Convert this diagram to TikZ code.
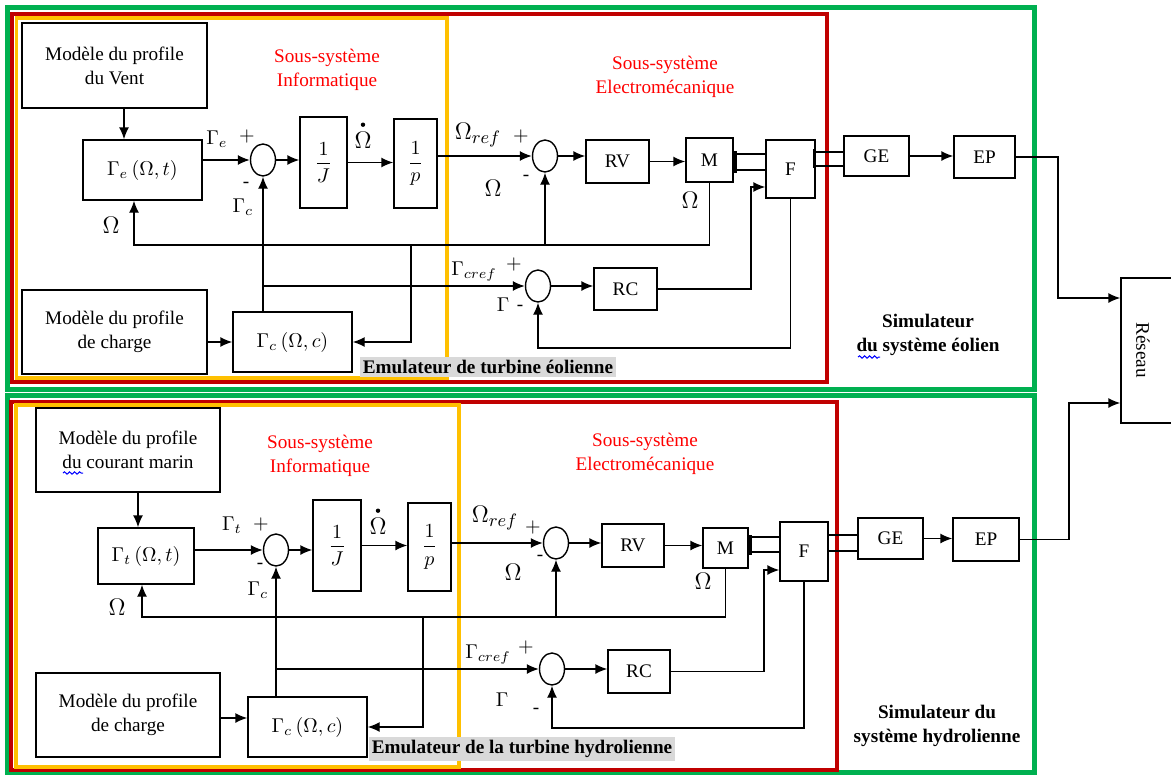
\documentclass[tikz,border=0pt]{standalone}
\usepackage{fontspec}
\setmainfont{Liberation Serif}
\usetikzlibrary{arrows.meta,shapes.geometric,decorations.pathmorphing}

\definecolor{frgreen}{HTML}{00B050}
\definecolor{frred}{HTML}{C00000}
\definecolor{fryellow}{HTML}{FFC000}
\definecolor{lblred}{HTML}{FF0000}
\definecolor{lblgray}{HTML}{D9D9D9}

\newcommand{\diagfont}{\fontsize{9.6}{12}\selectfont}

\tikzset{
  blk/.style={draw, line width=0.7pt, inner sep=1pt, align=center},
  sumn/.style={draw, ellipse, line width=0.7pt, minimum width=12.5pt, minimum height=16pt, inner sep=0pt},
  sig/.style={inner sep=0pt},
  bigsig/.style={inner sep=0pt, font=\fontsize{13}{13}\selectfont},
  subtitle/.style={text=lblred, align=center},
  emul/.style={fill=lblgray, inner sep=1.5pt, font=\diagfont\bfseries},
  simul/.style={align=center, font=\diagfont\bfseries},
  squiggle/.style={blue, line width=0.5pt, decorate, decoration={snake, amplitude=0.6pt, segment length=2.5pt}},
}

\begin{document}
\begin{tikzpicture}[x=0.5pt, y=-0.5pt, font=\diagfont, line width=0.7pt,
    >={Latex[length=6pt,width=5pt]}]
    \def\gw{2.5pt}
    \def\rw{2pt}
    \def\yw{1.7pt}
    % dot over Omega
    \def\dotr{1.1pt}

\useasboundingbox (0,0) rectangle (1171,776);

% --------------------
% Frames
% --------------------
\draw[frgreen, line width=\gw] (7,7) rectangle (1034,389);
\draw[frgreen, line width=\gw] (7,395) rectangle (1034,772);
\draw[frred, line width=\rw] (12,14) rectangle (827,382);
\draw[frred, line width=\rw] (11,402) rectangle (837,770);
\draw[fryellow, line width=\yw] (16.5,18) rectangle (447,378);
\draw[fryellow, line width=\yw] (16,405) rectangle (459,767);

% --------------------
% Wind turbine: blocks
% --------------------
\node[blk, minimum width=92.5pt, minimum height=42.5pt] (vent) at (114.5,65.5) {Modèle du profile\\du Vent};
\node[blk, minimum width=59.5pt, minimum height=30pt] (gamE) at (142.5,170) {$\Gamma_e\,(\Omega,t)$};
\node[sumn] (sumA) at (263,160) {};
\node[blk, minimum width=23.5pt, minimum height=45.5pt] (invJ) at (323.5,162.5) {$\displaystyle\frac{1}{J}$};
\node[blk, minimum width=21.5pt, minimum height=44.5pt] (invP) at (415.5,163.5) {$\displaystyle\frac{1}{p}$};
\node[sumn] (sumB) at (545,156) {};
\node[blk, minimum width=31.5pt, minimum height=21.5pt] (RV) at (617.5,161.5) {RV};
\node[blk, minimum width=23.5pt, minimum height=22pt] (M) at (709.5,160) {M};
\node[blk, minimum width=24.5pt, minimum height=29pt] (F) at (790.5,169) {F};
\node[blk, minimum width=32.5pt, minimum height=20pt] (GE) at (876.5,156) {GE};
\node[blk, minimum width=30.5pt, minimum height=21pt] (EP) at (984.5,157) {EP};
\node[sumn] (sumC) at (538,286) {};
\node[blk, minimum width=31.5pt, minimum height=21pt] (RC) at (625.5,289) {RC};
\node[blk, minimum width=59.5pt, minimum height=30pt] (gamC) at (292.5,342) {$\Gamma_c\,(\Omega,c)$};
\node[blk, minimum width=92.5pt, minimum height=42pt] (charge) at (114.5,332) {Modèle du profile\\de charge};

% grid
\node[blk, minimum width=29.5pt, minimum height=72.5pt] (reseau) at (1150.5,350.5) {};
\node[rotate=-90] (reseauTxt) at (1143,350) {Réseau};

% --------------------
% Wind turbine: connectors
% --------------------
\draw[->] ([xshift=4.75pt]vent.south) -- ([xshift=4.75pt]vent.south |- gamE.north);
\draw[->] (gamE.east |- sumA.west) -- (sumA.west);
\draw[->] (sumA.east) -- (sumA.east -| invJ.west);
\draw[->] (invJ.east) -- (invJ.east -| invP.west);
\draw[->] (invP.east |- sumB.west) -- (sumB.west);
\draw[->] (sumB.east) -- (sumB.east -| RV.west);
\draw[->] (RV.east) -- (RV.east -| M.west);

% shafts
\draw (M.east |- 0,154) -- (F.west |- 0,154);
\draw (M.east |- 0,170) -- (F.west |- 0,170);
\fill (M.east |- 0,151) rectangle ++(3,22);
\draw (F.east |- 0,152) -- (GE.west |- 0,152);
\draw (F.east |- 0,166) -- (GE.west |- 0,166);
\fill (F.east |- 0,149) rectangle ++(-3,19);

\draw[->] (GE.east) -- (GE.east -| EP.west);
\coordinate (rsA) at (1058,298);
\draw[->] (EP.east) -| (rsA) -- (rsA -| reseau.west);

% speed feedback
\coordinate (omA) at (134,245);
\coordinate (brA) at (411,245);
\draw[->] (M.south) |- (omA) -- (omA |- gamE.south);
\draw[->] (sumB.south |- omA) -- (sumB.south);
\draw[->] (brA) |- (gamC.east);

% torque loop
\draw[->] (charge.east |- gamC.west) -- (gamC.west);
\draw[->] (gamC.north -| sumA.south) -- (sumA.south);
\draw[->] (sumA.south |- sumC.west) -- (sumC.west);
\draw[->] (sumC.east) -- (sumC.east -| RC.west);
\coordinate (rcUp) at (751,187);
\draw[->] (RC.east) -| (rcUp) -- (rcUp -| F.west);
\coordinate (fbC) at (538,348);
\draw[->] (F.south) |- (fbC) -- (sumC.south);

% signal labels
\node[sig] (lGe) at (217,139) {$\Gamma_e$};
\node[sig] (lGeP) at (247,136) {$+$};
\node[sig] (lGcM) at (246,185) {-};
\node[sig] (lGc) at (243,207) {$\Gamma_c$};
\node[bigsig] (lOmDot) at (363,140) {$\Omega$};
\fill ([yshift=3.2pt]lOmDot.north) circle (\dotr);
\node[bigsig] (lOmRef) at (478,135) {$\Omega_{ref}$};
\node[sig] (lOmRefP) at (521,136) {$+$};
\node[bigsig] (lOmB) at (493,188) {$\Omega$};
\node[sig] (lOmBM) at (526,178) {-};
\node[bigsig] (lOmM) at (690,200) {$\Omega$};
\node[bigsig] (lOmA) at (111,225) {$\Omega$};
\node[sig] (lGcref) at (474,272) {$\Gamma_{cref}$};
\node[sig] (lGcrefP) at (514,264) {$+$};
\node[sig] (lGam) at (503,305) {$\Gamma$};
\node[sig] (lGamM) at (520,308) {-};

% titles
\node[subtitle] (infoA) at (327,70) {Sous-système\\Informatique};
\node[subtitle] (elecA) at (665,77) {Sous-système\\Electromécanique};
\node[simul] (simA) at (928,335) {Simulateur\\du système éolien};
\draw[squiggle] (858,357) -- (880,357);
\node[emul] (emA) at (488,367) {Emulateur de turbine éolienne};

% --------------------
% Tidal turbine: blocks
% --------------------
\node[blk, minimum width=92pt, minimum height=42pt] (marin) at (128,450) {Modèle du profile\\du courant marin};
\node[blk, minimum width=48pt, minimum height=28pt] (gamT) at (146,556) {$\Gamma_t\,(\Omega,t)$};
\node[sumn] (sumD) at (276,550) {};
\node[blk, minimum width=24pt, minimum height=45.5pt] (invJb) at (337,545.5) {$\displaystyle\frac{1}{J}$};
\node[blk, minimum width=21.5pt, minimum height=44pt] (invPb) at (429.5,547) {$\displaystyle\frac{1}{p}$};
\node[sumn] (sumE) at (556,543) {};
\node[blk, minimum width=31pt, minimum height=21.5pt] (RVb) at (633,545.5) {RV};
\node[blk, minimum width=22.5pt, minimum height=20pt] (Mb) at (725.5,548) {M};
\node[blk, minimum width=24pt, minimum height=29.5pt] (Fb) at (804,551.5) {F};
\node[blk, minimum width=32.5pt, minimum height=20.5pt] (GEb) at (890.5,538.5) {GE};
\node[blk, minimum width=33pt, minimum height=21.5pt] (EPb) at (986,539.5) {EP};
\node[sumn] (sumF) at (552,669) {};
\node[blk, minimum width=31pt, minimum height=21.5pt] (RCb) at (639,671.5) {RC};
\node[blk, minimum width=59.5pt, minimum height=30pt] (gamCb) at (307.5,727) {$\Gamma_c\,(\Omega,c)$};
\node[blk, minimum width=92pt, minimum height=42pt] (chargeb) at (128,715) {Modèle du profile\\de charge};
\draw[squiggle] (63,473) -- (83,473);

% --------------------
% Tidal turbine: connectors
% --------------------
\draw[->] ([xshift=5pt]marin.south) -- ([xshift=5pt]marin.south |- gamT.north);
\draw[->] (gamT.east |- sumD.west) -- (sumD.west);
\draw[->] (sumD.east) -- (sumD.east -| invJb.west);
\draw[->] (invJb.east) -- (invJb.east -| invPb.west);
\draw[->] (invPb.east |- sumE.west) -- (sumE.west);
\draw[->] (sumE.east) -- (sumE.east -| RVb.west);
\draw[->] (RVb.east) -- (RVb.east -| Mb.west);

% shafts
\draw (Mb.east |- 0,537) -- (Fb.west |- 0,537);
\draw (Mb.east |- 0,552) -- (Fb.west |- 0,552);
\fill (Mb.east |- 0,535) rectangle ++(3,20);
\draw (Fb.east |- 0,535) -- (GEb.west |- 0,535);
\draw (Fb.east |- 0,551) -- (GEb.west |- 0,551);

\draw[->] (GEb.east) -- (GEb.east -| EPb.west);
\coordinate (rsB) at (1069,403);
\draw[->] (EPb.east) -| (rsB) -- (rsB -| reseau.west);

% speed feedback
\coordinate (omB) at (142,617);
\coordinate (brB) at (423,617);
\draw[->] (Mb.south) |- (omB) -- (omB |- gamT.south);
\draw[->] (sumE.south |- omB) -- (sumE.south);
\draw[->] (brB) |- (gamCb.east);

% torque loop
\draw[->] (chargeb.east |- 0,718) -- (gamCb.west |- 0,718);
\draw[->] (gamCb.north -| sumD.south) -- (sumD.south);
\draw[->] (sumD.south |- sumF.west) -- (sumF.west);
\draw[->] (sumF.east) -- (sumF.east -| RCb.west);
\coordinate (rcUpB) at (764,570);
\draw[->] (RCb.east) -| (rcUpB) -- (rcUpB -| Fb.west);
\coordinate (fbF) at (552,728);
\draw[->] (Fb.south) |- (fbF) -- (sumF.south);

% signal labels
\node[sig] (lGt) at (232,525) {$\Gamma_t$};
\node[sig] (lGtP) at (261,524) {$+$};
\node[sig] (lGcbM) at (260,566) {-};
\node[sig] (lGcb) at (258,590) {$\Gamma_c$};
\node[bigsig] (lOmDotb) at (378,526) {$\Omega$};
\fill ([yshift=3.2pt]lOmDotb.north) circle (\dotr);
\node[bigsig] (lOmRefb) at (495,518) {$\Omega_{ref}$};
\node[sig] (lOmRefbP) at (533,527) {$+$};
\node[bigsig] (lOmE) at (513,572) {$\Omega$};
\node[sig] (lOmEM) at (540,558) {-};
\node[bigsig] (lOmMb) at (703,581) {$\Omega$};
\node[bigsig] (lOmD) at (117,607) {$\Omega$};
\node[sig] (lGcrefb) at (488,655) {$\Gamma_{cref}$};
\node[sig] (lGcrefbP) at (526,647) {$+$};
\node[sig] (lGamb) at (502,700) {$\Gamma$};
\node[sig] (lGambM) at (536,711) {-};

% titles
\node[subtitle] (infoB) at (320,456) {Sous-système\\Informatique};
\node[subtitle] (elecB) at (645,454) {Sous-système\\Electromécanique};
\node[simul] (simB) at (937,726) {Simulateur du\\système hydrolienne};
\node[emul] (emB) at (522,749) {Emulateur de la turbine hydrolienne};

\end{tikzpicture}
\end{document}
